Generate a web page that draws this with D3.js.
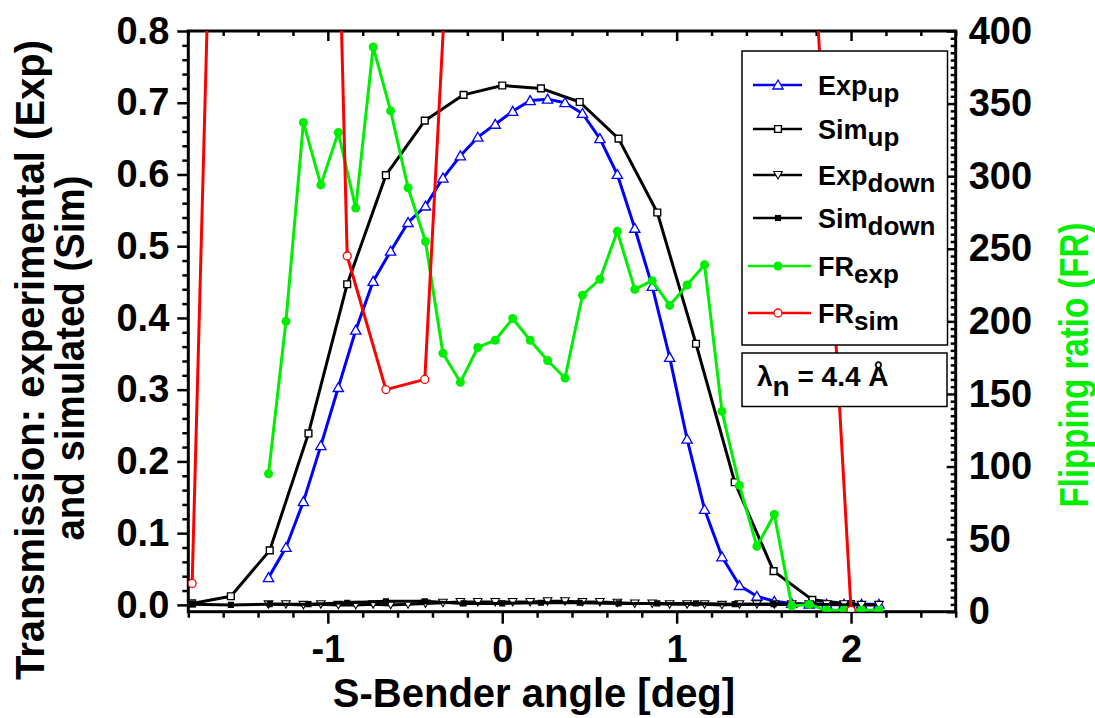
<!DOCTYPE html>
<html><head><meta charset="utf-8">
<script src="https://cdn.jsdelivr.net/npm/d3@7"></script>
<style>
html,body{margin:0;padding:0;background:#fff;}
text{font-family:"Liberation Sans",Arial,sans-serif;font-weight:bold;}
</style></head>
<body>
<svg id="chart" width="1095" height="718"></svg>
<script>
// ---- data ----
const expX = [-1.34,-1.24,-1.14,-1.04,-0.94,-0.84,-0.74,-0.64,-0.54,-0.44,-0.34,-0.24,-0.14,-0.04,0.06,0.16,0.26,0.36,0.46,0.56,0.66,0.76,0.86,0.96,1.06,1.16,1.26,1.36,1.46,1.56,1.66,1.76,1.86,1.96,2.06,2.16];
const expUp = [0.038,0.080,0.144,0.222,0.303,0.383,0.451,0.493,0.533,0.556,0.595,0.626,0.652,0.670,0.688,0.703,0.705,0.700,0.685,0.650,0.600,0.525,0.444,0.345,0.231,0.133,0.067,0.027,0.012,0.005,0.002,0.001,0.001,0.001,0.001,0.001];
const expDown = [0.001,0.001,0.000,0.001,0.000,0.000,0.001,0.000,0.001,0.002,0.003,0.004,0.004,0.004,0.004,0.004,0.005,0.005,0.004,0.004,0.003,0.002,0.002,0.001,0.001,0.001,0.000,0.001,0.001,0.001,0.001,0.001,0.001,0.001,0.000,0.000];
const frExp = [95,200,337,294,330,278,389,345,292,255,178,158,182,187,202,187,173,161,218,229,262,222,228,211,225,239,138,87,45,67,4,5,1,1,1,1];
const simX = [-1.778,-1.556,-1.333,-1.111,-0.889,-0.667,-0.444,-0.222,0,0.222,0.444,0.667,0.889,1.111,1.333,1.556,1.778,2.0];
const simUp = [0.002,0.012,0.076,0.239,0.447,0.599,0.675,0.711,0.724,0.720,0.701,0.650,0.547,0.364,0.171,0.047,0.007,0.001];
const simDown = [0.001,0.000,0.001,0.001,0.003,0.005,0.005,0.002,0.002,0.003,0.003,0.002,0.002,0.002,0.001,0.001,0.001,0.000];
const frSim = [19.5,1015,1400,1313,245,153,160,665,900,1000,1050,1000,950,850,700,560,473,1];
const xTicks = [-1,0,1,2];
const yLeftTicks = [0,0.1,0.2,0.3,0.4,0.5,0.6,0.7,0.8];
const yRightTicks = [0,50,100,150,200,250,300,350,400];

// ---- layout ----
const svg = d3.select("#chart");
const X0=188.3, X1=955.7, Y0=31, Y1=611.7;
const x = d3.scaleLinear().domain([-1.8,2.6]).range([X0,X1]);
const yL = d3.scaleLinear().domain([-0.0095,0.8]).range([Y1,Y0]);
const yR = d3.scaleLinear().domain([0,400]).range([Y1,Y0]);
const GREEN = "#00ee00";

svg.append("defs").append("clipPath").attr("id","clip")
  .append("rect").attr("x",X0).attr("y",Y0).attr("width",X1-X0).attr("height",Y1-Y0);

function range(a,b,s){const r=[];for(let v=a;v<=b+1e-9;v+=s)r.push(+v.toFixed(4));return r;}
const isMajor=(v,arr)=>arr.some(m=>Math.abs(m-v)<1e-6);
const xMinor = range(-1.8,2.6,0.2).filter(v=>!isMajor(v,xTicks));
const yLMinor = range(0,0.8,0.02).filter(v=>!isMajor(v,yLeftTicks));
const yRMinor = range(0,400,5).filter(v=>!isMajor(v,yRightTicks));

function styleAxis(g,fs){
  g.selectAll(".domain").remove();
  g.selectAll("line").attr("stroke","#000").attr("stroke-width",2.5);
  g.selectAll("text").attr("font-size",fs).attr("fill","#000")
   .style("font-family","'Liberation Sans',Arial,sans-serif").style("font-weight","bold");
}
const fmtX = d => d<0 ? "-"+Math.abs(d) : String(d);

// bottom
svg.append("g").attr("transform",`translate(0,${Y1})`)
  .call(d3.axisBottom(x).tickValues(xTicks).tickSize(12).tickPadding(11).tickFormat(fmtX)).call(g=>styleAxis(g,38));
svg.append("g").attr("transform",`translate(0,${Y1})`)
  .call(d3.axisBottom(x).tickValues(xMinor).tickSize(6).tickFormat("")).call(g=>styleAxis(g,0));
// top (inward)
svg.append("g").attr("transform",`translate(0,${Y0})`)
  .call(d3.axisTop(x).tickValues(xTicks).tickSize(-10).tickFormat("")).call(g=>styleAxis(g,0));
svg.append("g").attr("transform",`translate(0,${Y0})`)
  .call(d3.axisTop(x).tickValues(xMinor).tickSize(-5).tickFormat("")).call(g=>styleAxis(g,0));
// left
svg.append("g").attr("transform",`translate(${X0},0)`)
  .call(d3.axisLeft(yL).tickValues(yLeftTicks).tickSize(11).tickPadding(8).tickFormat(d3.format(".1f"))).call(g=>styleAxis(g,38));
svg.append("g").attr("transform",`translate(${X0},0)`)
  .call(d3.axisLeft(yL).tickValues(yLMinor).tickSize(6).tickFormat("")).call(g=>styleAxis(g,0));
// right (inward ticks, labels outside)
svg.append("g").attr("transform",`translate(${X1},0)`)
  .call(d3.axisRight(yR).tickValues(yRightTicks).tickSizeInner(-9).tickSizeOuter(0).tickPadding(13).tickFormat(d3.format("d"))).call(g=>styleAxis(g,38));
svg.append("g").attr("transform",`translate(${X1},0)`)
  .call(d3.axisRight(yR).tickValues(yRMinor).tickSizeInner(-5).tickSizeOuter(0).tickFormat("")).call(g=>styleAxis(g,0));

// frame
svg.append("rect").attr("x",X0).attr("y",Y0).attr("width",X1-X0).attr("height",Y1-Y0)
  .attr("fill","none").attr("stroke","#000").attr("stroke-width",3);

// ---- series ----
const plot = svg.append("g").attr("clip-path","url(#clip)");
function drawSeries(xs,ys,yScale,color,lw,markerFn){
  const pts = xs.map((v,i)=>[x(v),yScale(ys[i])]);
  plot.append("path").attr("d",d3.line()(pts)).attr("fill","none")
    .attr("stroke",color).attr("stroke-width",lw).attr("stroke-linejoin","round");
  pts.forEach(p=>markerFn(plot,p[0],p[1]));
}
const tri = (g,cx,cy)=>g.append("path").attr("d",d3.symbol(d3.symbolTriangle,46)()).attr("transform",`translate(${cx},${cy+1})`).attr("fill","#fff").attr("stroke","#0000ff").attr("stroke-width",1.3);
const sqOpen = (g,cx,cy)=>g.append("path").attr("d",d3.symbol(d3.symbolSquare,46)()).attr("transform",`translate(${cx},${cy})`).attr("fill","#fff").attr("stroke","#000").attr("stroke-width",1.4);
const triDown = (g,cx,cy)=>g.append("path").attr("d",d3.symbol(d3.symbolTriangle,32)()).attr("transform",`translate(${cx},${cy-1}) rotate(180)`).attr("fill","#fff").attr("stroke","#000").attr("stroke-width",1.1);
const sqFill = (g,cx,cy)=>g.append("path").attr("d",d3.symbol(d3.symbolSquare,38)()).attr("transform",`translate(${cx},${cy})`).attr("fill","#000");
const dotG = (g,cx,cy)=>g.append("circle").attr("cx",cx).attr("cy",cy).attr("r",4.5).attr("fill",GREEN);
const dotR = (g,cx,cy)=>g.append("circle").attr("cx",cx).attr("cy",cy).attr("r",4).attr("fill","#fff").attr("stroke","#ff0000").attr("stroke-width",1.3);

drawSeries(simX,simUp,yL,"#000",3,sqOpen);
drawSeries(expX,expUp,yL,"#0000ff",3,tri);
drawSeries(expX,expDown,yL,"#000",3,triDown);
drawSeries(simX,simDown,yL,"#000",3,sqFill);
drawSeries(expX,frExp,yR,GREEN,3,dotG);
drawSeries(simX,frSim,yR,"#ff0000",3,dotR);

// ---- legend ----
const lg = svg.append("g");
lg.append("rect").attr("x",742).attr("y",51).attr("width",205.5).attr("height",294)
  .attr("fill","#fff").attr("stroke","#000").attr("stroke-width",1.5);
const legendItems = [
  {main:"Exp",sub:"up",color:"#0000ff",m:tri,y:85,x1:753,x2:802},
  {main:"Sim",sub:"up",color:"#000",m:sqOpen,y:129,x1:753,x2:802},
  {main:"Exp",sub:"down",color:"#000",m:triDown,y:175,x1:753,x2:802},
  {main:"Sim",sub:"down",color:"#000",m:sqFill,y:218,x1:753,x2:802},
  {main:"FR",sub:"exp",color:GREEN,m:dotG,y:266,x1:748,x2:811},
  {main:"FR",sub:"sim",color:"#ff0000",m:dotR,y:313,x1:748,x2:811}
];
legendItems.forEach(it=>{
  lg.append("line").attr("x1",it.x1).attr("x2",it.x2).attr("y1",it.y).attr("y2",it.y)
    .attr("stroke",it.color).attr("stroke-width",2.5);
  it.m(lg,778,it.y);
  const t = lg.append("text").attr("x",818).attr("y",it.y+10).attr("font-size",27);
  t.append("tspan").text(it.main);
  t.append("tspan").attr("dy",7).attr("font-size",26).text(it.sub);
});
lg.append("rect").attr("x",742).attr("y",353).attr("width",205).attr("height",53.5)
  .attr("fill","#fff").attr("stroke","#000").attr("stroke-width",1.5);
const lt = lg.append("text").attr("x",757).attr("y",386).attr("font-size",28);
lt.append("tspan").text("λ");
lt.append("tspan").attr("dy",10).text("n");
lt.append("tspan").attr("dy",-10).text(" = 4.4 Å");

// ---- titles ----
svg.append("text").attr("x",(X0+X1)/2-38).attr("y",707).attr("text-anchor","middle")
  .attr("font-size",40).text("S-Bender angle [deg]");
svg.append("text").attr("transform","translate(44,360) rotate(-90)").attr("text-anchor","middle")
  .attr("font-size",40).text("Transmission: experimental (Exp)");
svg.append("text").attr("transform","translate(84,358) rotate(-90)").attr("text-anchor","middle")
  .attr("font-size",40).attr("textLength",365).attr("lengthAdjust","spacingAndGlyphs").text("and simulated (Sim)");
svg.append("text").attr("transform","translate(1088,365) rotate(-90)").attr("text-anchor","middle")
  .attr("font-size",40).attr("textLength",285).attr("lengthAdjust","spacingAndGlyphs").attr("fill",GREEN).text("Flipping ratio (FR)");
</script>
</body></html>
